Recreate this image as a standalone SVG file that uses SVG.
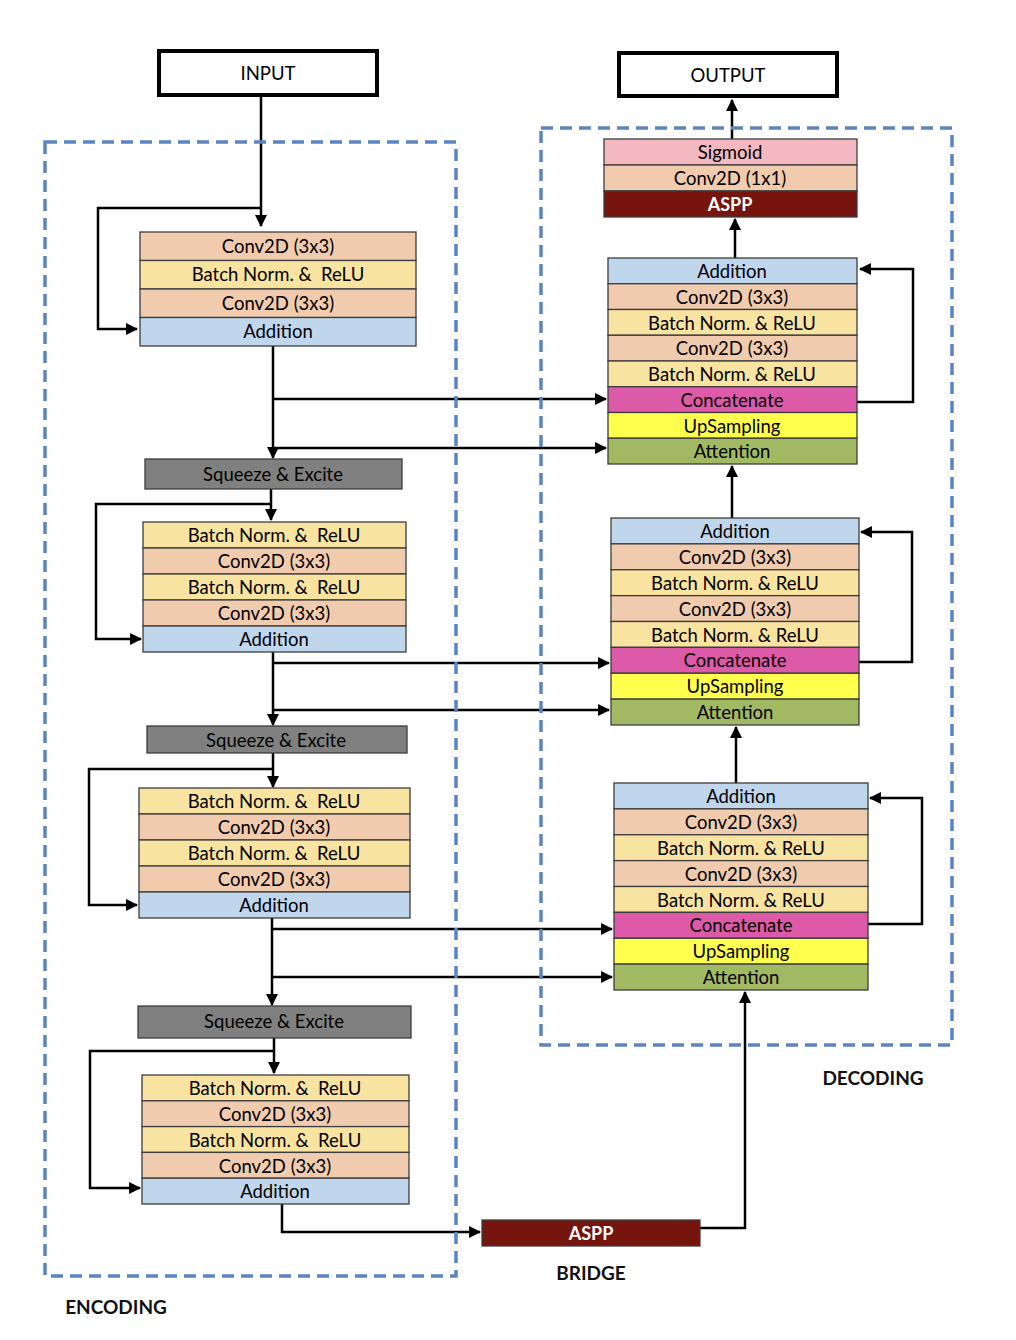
<svg xmlns="http://www.w3.org/2000/svg" width="1016" height="1340" viewBox="0 0 1016 1340">
<style>
.bg{fill:#ffffff}
.io{fill:#ffffff;stroke:#000;stroke-width:4}
.row{stroke:#3c3c3c;stroke-width:1.3}
.conv{fill:#F0CBAE}
.bn{fill:#F9E3A0}
.add{fill:#C0D6EC}
.cat{fill:#DC5AA7}
.up{fill:#FFFF4D}
.att{fill:#A2B963}
.sig{fill:#F4B8C1}
.aspp{fill:#76140E}
.se{fill:#808080;stroke:#3c3c3c;stroke-width:1.3}
.t{font-family:Lato,"Liberation Sans",sans-serif;font-size:18.5px;fill:#000;text-anchor:middle;dominant-baseline:central;white-space:pre}
.tw{font-family:Lato,"Liberation Sans",sans-serif;font-size:18px;font-weight:bold;fill:#fff;text-anchor:middle;dominant-baseline:central}
.lbl{font-family:Lato,"Liberation Sans",sans-serif;font-size:19px;font-weight:bold;fill:#111;text-anchor:middle}
.dash{fill:none;stroke:#5B84C3;stroke-width:3.5;stroke-dasharray:12 7}
.c{fill:none;stroke:#000;stroke-width:2.5;marker-end:url(#ah)}
</style>
<defs>
<marker id="ah" markerUnits="userSpaceOnUse" markerWidth="12" markerHeight="12" refX="10" refY="5.5" orient="auto" viewBox="0 0 11 11">
<path d="M0,0 L11,5.5 L0,11 z" fill="#000"/>
</marker>
</defs>
<rect class="bg" x="0" y="0" width="1016" height="1340"/>

<g id="connectors">
<path class="c" d="M261,97 V226"/>
<path class="c" d="M261,208 H98 V329 H137"/>
<path class="c" d="M273,346 V458"/>
<path class="c" d="M273,399 H606"/>
<path class="c" d="M273,448 H606"/>
<path class="c" d="M271,489 V520"/>
<path class="c" d="M271,504 H96 V639 H141"/>
<path class="c" d="M273,652 V725"/>
<path class="c" d="M273,663 H609"/>
<path class="c" d="M273,710 H609"/>
<path class="c" d="M273,753 V787"/>
<path class="c" d="M273,769 H89 V905 H137"/>
<path class="c" d="M272,918 V1005"/>
<path class="c" d="M272,929 H612"/>
<path class="c" d="M272,977 H612"/>
<path class="c" d="M274,1038 V1073"/>
<path class="c" d="M274,1051 H90 V1188 H140"/>
<path class="c" d="M282,1204 V1232 H480"/>
<path class="c" d="M700,1228 H745 V992"/>
<path class="c" d="M736,783 V727"/>
<path class="c" d="M732,518 V466"/>
<path class="c" d="M735,258 V219"/>
<path class="c" d="M732,139 V100"/>
<path class="c" d="M857,402 H913 V269 H860"/>
<path class="c" d="M859,662 H912 V532 H861"/>
<path class="c" d="M868,924 H922 V798 H870"/>
</g>

<g id="encoding-region">
<rect class="dash" x="45" y="142" width="411" height="1134"/>
<text class="lbl" x="116" y="1314">ENCODING</text>
</g>
<g id="decoding-region">
<rect class="dash" x="541" y="128" width="411" height="917"/>
<text class="lbl" x="873" y="1085">DECODING</text>
</g>
<g id="bridge-label">
<text class="lbl" x="591" y="1280">BRIDGE</text>
</g>

<g id="input">
<rect class="io" x="159" y="51" width="218" height="44"/>
<text class="t" x="268" y="73">INPUT</text>
</g>
<g id="output">
<rect class="io" x="619" y="53" width="218" height="43"/>
<text class="t" x="728" y="75">OUTPUT</text>
</g>

<g id="enc-block-1">
<rect class="row conv" x="140" y="232" width="276" height="28.5"/>
<rect class="row bn" x="140" y="260.5" width="276" height="28.5"/>
<rect class="row conv" x="140" y="289" width="276" height="28.5"/>
<rect class="row add" x="140" y="317.5" width="276" height="28.5"/>
<text class="t" x="278" y="245.5">Conv2D (3x3)</text>
<text class="t" x="278" y="274">Batch Norm. &amp;  ReLU</text>
<text class="t" x="278" y="302.5">Conv2D (3x3)</text>
<text class="t" x="278" y="331">Addition</text>
</g>

<g id="se-1">
<rect class="se" x="145" y="459" width="257" height="30"/>
<text class="t" x="273" y="473.5">Squeeze &amp; Excite</text>
</g>

<g id="enc-block-2">
<rect class="row bn" x="143" y="522" width="263" height="26"/>
<rect class="row conv" x="143" y="548" width="263" height="26"/>
<rect class="row bn" x="143" y="574" width="263" height="26"/>
<rect class="row conv" x="143" y="600" width="263" height="26"/>
<rect class="row add" x="143" y="626" width="263" height="26"/>
<text class="t" x="274" y="535">Batch Norm. &amp;  ReLU</text>
<text class="t" x="274" y="561">Conv2D (3x3)</text>
<text class="t" x="274" y="587">Batch Norm. &amp;  ReLU</text>
<text class="t" x="274" y="613">Conv2D (3x3)</text>
<text class="t" x="274" y="639">Addition</text>
</g>

<g id="se-2">
<rect class="se" x="147" y="726" width="260" height="27"/>
<text class="t" x="276" y="739.5">Squeeze &amp; Excite</text>
</g>

<g id="enc-block-3">
<rect class="row bn" x="139" y="788" width="271" height="26"/>
<rect class="row conv" x="139" y="814" width="271" height="26"/>
<rect class="row bn" x="139" y="840" width="271" height="26"/>
<rect class="row conv" x="139" y="866" width="271" height="26"/>
<rect class="row add" x="139" y="892" width="271" height="26"/>
<text class="t" x="274" y="801">Batch Norm. &amp;  ReLU</text>
<text class="t" x="274" y="827">Conv2D (3x3)</text>
<text class="t" x="274" y="853">Batch Norm. &amp;  ReLU</text>
<text class="t" x="274" y="879">Conv2D (3x3)</text>
<text class="t" x="274" y="905">Addition</text>
</g>

<g id="se-3">
<rect class="se" x="138" y="1006" width="273" height="32"/>
<text class="t" x="274" y="1021">Squeeze &amp; Excite</text>
</g>

<g id="enc-block-4">
<rect class="row bn" x="142" y="1075" width="267" height="25.8"/>
<rect class="row conv" x="142" y="1100.8" width="267" height="25.8"/>
<rect class="row bn" x="142" y="1126.6" width="267" height="25.8"/>
<rect class="row conv" x="142" y="1152.4" width="267" height="25.8"/>
<rect class="row add" x="142" y="1178.2" width="267" height="25.8"/>
<text class="t" x="275" y="1088">Batch Norm. &amp;  ReLU</text>
<text class="t" x="275" y="1114">Conv2D (3x3)</text>
<text class="t" x="275" y="1139.5">Batch Norm. &amp;  ReLU</text>
<text class="t" x="275" y="1165.5">Conv2D (3x3)</text>
<text class="t" x="275" y="1191">Addition</text>
</g>

<g id="bridge-aspp">
<rect class="row aspp" x="482" y="1220" width="218" height="26"/>
<text class="tw" x="591" y="1233">ASPP</text>
</g>

<g id="dec-block-3">
<rect class="row add" x="614" y="783" width="254" height="25.875"/>
<rect class="row conv" x="614" y="808.875" width="254" height="25.875"/>
<rect class="row bn" x="614" y="834.75" width="254" height="25.875"/>
<rect class="row conv" x="614" y="860.625" width="254" height="25.875"/>
<rect class="row bn" x="614" y="886.5" width="254" height="25.875"/>
<rect class="row cat" x="614" y="912.375" width="254" height="25.875"/>
<rect class="row up" x="614" y="938.25" width="254" height="25.875"/>
<rect class="row att" x="614" y="964.125" width="254" height="25.875"/>
<text class="t" x="741" y="796">Addition</text>
<text class="t" x="741" y="822">Conv2D (3x3)</text>
<text class="t" x="741" y="847.5">Batch Norm. &amp; ReLU</text>
<text class="t" x="741" y="873.5">Conv2D (3x3)</text>
<text class="t" x="741" y="899.5">Batch Norm. &amp; ReLU</text>
<text class="t" x="741" y="925">Concatenate</text>
<text class="t" x="741" y="951">UpSampling</text>
<text class="t" x="741" y="977">Attention</text>
</g>

<g id="dec-block-2">
<rect class="row add" x="611" y="518" width="248" height="25.875"/>
<rect class="row conv" x="611" y="543.875" width="248" height="25.875"/>
<rect class="row bn" x="611" y="569.75" width="248" height="25.875"/>
<rect class="row conv" x="611" y="595.625" width="248" height="25.875"/>
<rect class="row bn" x="611" y="621.5" width="248" height="25.875"/>
<rect class="row cat" x="611" y="647.375" width="248" height="25.875"/>
<rect class="row up" x="611" y="673.25" width="248" height="25.875"/>
<rect class="row att" x="611" y="699.125" width="248" height="25.875"/>
<text class="t" x="735" y="531">Addition</text>
<text class="t" x="735" y="557">Conv2D (3x3)</text>
<text class="t" x="735" y="582.5">Batch Norm. &amp; ReLU</text>
<text class="t" x="735" y="608.5">Conv2D (3x3)</text>
<text class="t" x="735" y="634.5">Batch Norm. &amp; ReLU</text>
<text class="t" x="735" y="660">Concatenate</text>
<text class="t" x="735" y="686">UpSampling</text>
<text class="t" x="735" y="712">Attention</text>
</g>

<g id="dec-block-1">
<rect class="row add" x="608" y="258" width="249" height="25.75"/>
<rect class="row conv" x="608" y="283.75" width="249" height="25.75"/>
<rect class="row bn" x="608" y="309.5" width="249" height="25.75"/>
<rect class="row conv" x="608" y="335.25" width="249" height="25.75"/>
<rect class="row bn" x="608" y="361" width="249" height="25.75"/>
<rect class="row cat" x="608" y="386.75" width="249" height="25.75"/>
<rect class="row up" x="608" y="412.5" width="249" height="25.75"/>
<rect class="row att" x="608" y="438.25" width="249" height="25.75"/>
<text class="t" x="732" y="271">Addition</text>
<text class="t" x="732" y="296.5">Conv2D (3x3)</text>
<text class="t" x="732" y="322.5">Batch Norm. &amp; ReLU</text>
<text class="t" x="732" y="348">Conv2D (3x3)</text>
<text class="t" x="732" y="374">Batch Norm. &amp; ReLU</text>
<text class="t" x="732" y="399.5">Concatenate</text>
<text class="t" x="732" y="425.5">UpSampling</text>
<text class="t" x="732" y="451">Attention</text>
</g>

<g id="output-stack">
<rect class="row sig" x="604" y="139" width="253" height="26"/>
<rect class="row conv" x="604" y="165" width="253" height="26"/>
<rect class="row aspp" x="604" y="191" width="253" height="26"/>
<text class="t" x="730" y="152">Sigmoid</text>
<text class="t" x="730" y="178">Conv2D (1x1)</text>
<text class="tw" x="730" y="204">ASPP</text>
</g>
</svg>
